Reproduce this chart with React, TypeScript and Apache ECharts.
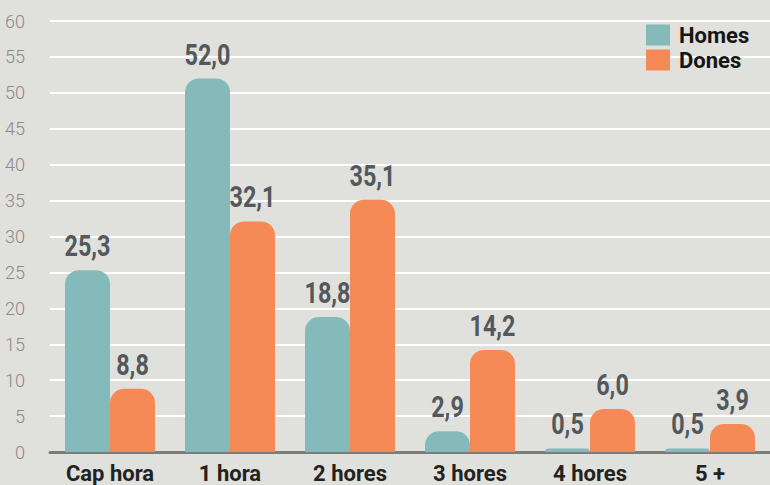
import React, { useEffect, useRef } from "react";
import * as echarts from "echarts";

const categories = ["Cap hora", "1 hora", "2 hores", "3 hores", "4 hores", "5 +"];
const homes = [25.3, 52.0, 18.8, 2.9, 0.5, 0.5];
const dones = [8.8, 32.1, 35.1, 14.2, 6.0, 3.9];
const seriesNames = ["Homes", "Dones"];
const colors = ["#84baba", "#f68a56"];

const BAR_W = 45;

export default function App() {
  const ref = useRef<HTMLDivElement>(null);
  useEffect(() => {
    if (!ref.current) return;
    const chart = echarts.init(ref.current, null, { renderer: "svg" });
    const mkSeries = (name: string, data: number[], color: string) => ({
      name,
      type: "bar",
      data,
      barWidth: BAR_W,
      barGap: "0%",
      itemStyle: { color, borderRadius: [14, 14, 0, 0] },
    });
    const mkLabels = (data: number[], offset: number) => ({
      type: "custom",
      silent: true,
      z: 5,
      data: data.map((v, i) => [i, v]),
      encode: { x: 0, y: 1 },
      renderItem: (params: any, api: any) => {
        const pt = api.coord([api.value(0), api.value(1)]);
        const v = api.value(1) as number;
        return {
          type: "text",
          x: pt[0] + offset,
          y: pt[1] - 9,
          scaleX: 0.78,
          style: {
            text: v.toFixed(1).replace(".", ","),
            x: 0,
            y: 0,
            align: "center",
            verticalAlign: "bottom",
            fontFamily: "Roboto",
            fontWeight: "bold",
            fontSize: 30,
            fill: "#54585c",
          },
        };
      },
    });
    chart.setOption({
      animation: false,
      backgroundColor: "#e0e0dc",
      color: colors,
      legend: {
        top: 19,
        left: 641,
        orient: "vertical",
        itemWidth: 24,
        itemHeight: 21,
        itemGap: 3,
        icon: "rect",
        data: seriesNames,
        textStyle: {
          fontFamily: "Roboto",
          fontWeight: "bold",
          fontSize: 22,
          color: "#151515",
          padding: [0, 0, 0, 4],
        },
      },
      grid: { left: 50, top: 21, width: 723, bottom: 33, containLabel: false },
      xAxis: {
        type: "category",
        data: categories,
        axisLine: { show: true, lineStyle: { color: "#7b7b7b", width: 3 } },
        axisTick: { show: false },
        axisLabel: {
          fontFamily: "Roboto",
          fontWeight: "bold",
          fontSize: 22,
          color: "#222",
          margin: 10,
          interval: 0,
        },
      },
      yAxis: {
        type: "value",
        min: 0,
        max: 60,
        interval: 5,
        axisLine: { show: false },
        axisTick: { show: false },
        axisLabel: {
          fontFamily: "Roboto",
          fontWeight: 300,
          fontSize: 18,
          color: "#8a8a8a",
          margin: 25,
          align: "right",
        },
        splitLine: { lineStyle: { color: "#ffffff", width: 2 } },
      },
      series: [
        mkSeries(seriesNames[0], homes, colors[0]),
        mkSeries(seriesNames[1], dones, colors[1]),
        mkLabels(homes, -BAR_W / 2),
        mkLabels(dones, BAR_W / 2),
      ],
    });
    return () => chart.dispose();
  }, []);
  return <div ref={ref} style={{ width: 770, height: 485, position: "absolute", left: 0, top: 0 }} />;
}
